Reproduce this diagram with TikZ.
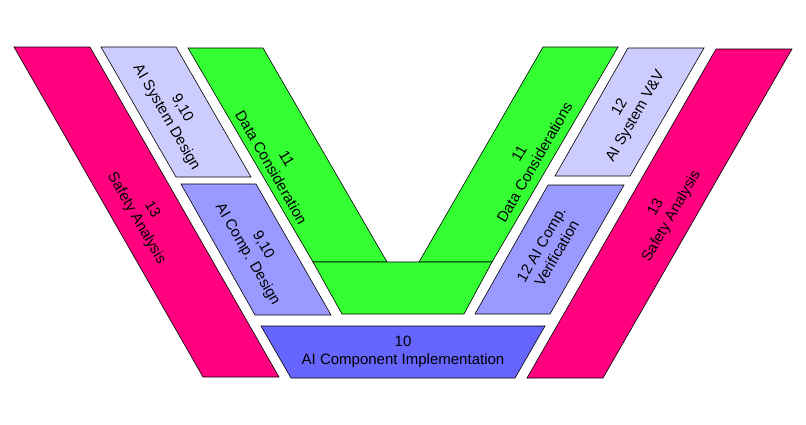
\documentclass[tikz,border=0pt]{standalone}
\usepackage{fontspec}
\setmainfont{Liberation Sans}
\definecolor{safety}{RGB}{255,0,127}
\definecolor{sysblue}{RGB}{204,204,255}
\definecolor{compblue}{RGB}{153,153,255}
\definecolor{implblue}{RGB}{102,102,255}
\definecolor{datagreen}{RGB}{51,255,51}
\tikzset{
	block/.style={draw=black, line width=0.6pt, line join=miter},
	lbl/.style={align=center, font=\fontsize{15}{18}\selectfont, inner sep=0.75pt}}
\begin{document}
\begin{tikzpicture}[x=1pt,y=1pt,yscale=-1,xscale=1]
	\useasboundingbox (0,0) rectangle (806,424);
	
	%left side
	\draw [block, fill=safety] (14,47) -- (90,47) -- (279,377) -- (203,377) -- cycle ;
	\draw [block, fill=sysblue] (101,47) -- (176,47) -- (251,177) -- (176,177) -- cycle ;
	\draw [block, fill=compblue] (181,184) -- (256,184) -- (331,315) -- (255,315) -- cycle ;
	%data green
	\draw [block, fill=datagreen] (188,48) -- (263,48) -- (387,262) -- (313,262) -- cycle ;
	\draw [block, fill=datagreen] (543,47) -- (618,47) -- (492,262) -- (419,262) -- cycle ;
	\draw [block, fill=datagreen] (313,262) -- (492,262) -- (464,314) -- (342,314) -- cycle ;
	%bottom
	\draw [block, fill=implblue] (261,326) -- (545,326) -- (515,378) -- (291,378) -- cycle ;
	%right side
	\draw [block, fill=compblue] (548,185) -- (624,185) -- (550,314) -- (475,314) -- cycle ;
	\draw [block, fill=sysblue] (628,48) -- (704,48) -- (630,176) -- (555,176) -- cycle ;
	\draw [block, fill=safety] (716,49) -- (792,49) -- (603,378) -- (527,378) -- cycle ;
	
	% Text Node
	\node (safetyL) [lbl, rotate=-60] at (144,214) {13\\Safety Analysis};
	% Text Node
	\node (sysdes) [lbl, rotate=-60] at (174,113) {9,10\\AI System Design};
	% Text Node
	\node (compdes) [lbl, rotate=-60] at (255,250) {9,10\\AI Comp. Design};
	% Text Node
	\node (dataL) [lbl, rotate=-60] at (279,163) {11\\Data Consideration};
	% Text Node
	\node (dataR) [lbl, rotate=60] at (527,158) {11\\Data Considerations};
	% Text Node
	\node (impl) [lbl] at (403,352) {10\\AI Component Implementation};
	% Text Node
	\node (compver) [lbl, rotate=60] at (549,249) {12 AI Comp.\\Verification};
	% Text Node
	\node (sysvv) [lbl, rotate=60] at (628,112) {12\\AI System V\&V};
	% Text Node
	\node (safetyR) [lbl, rotate=60] at (664,212) {13\\Safety Analysis};
	
\end{tikzpicture}
\end{document}
